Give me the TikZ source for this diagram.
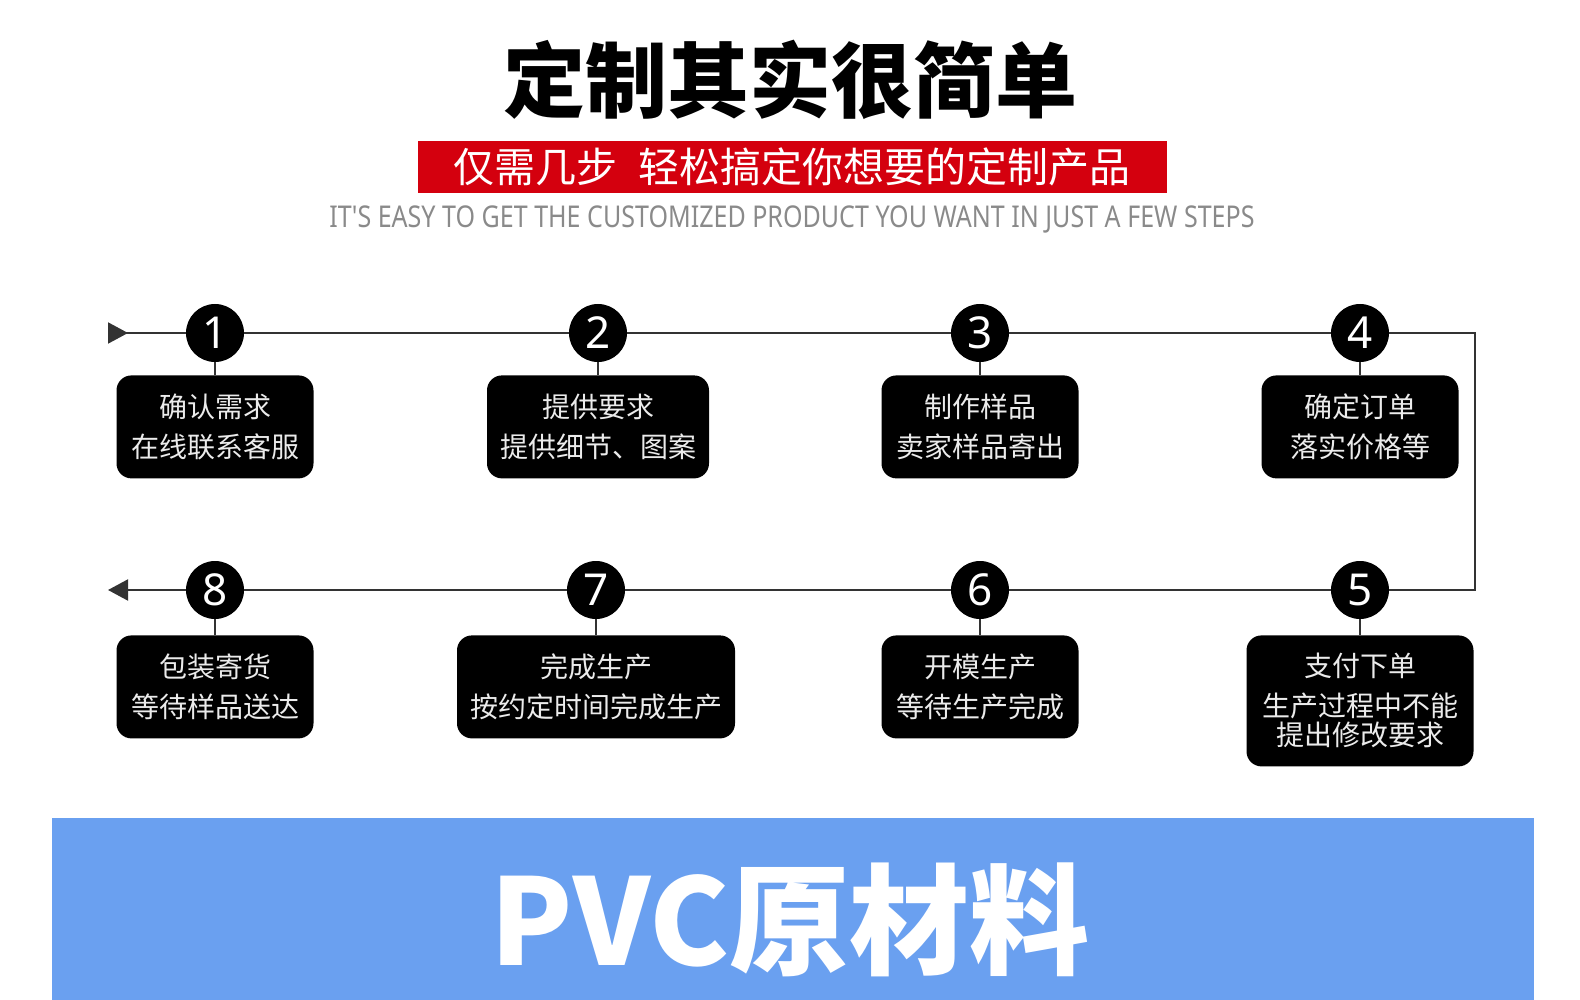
\documentclass[tikz,border=0pt]{standalone}
\usepackage{fontspec}
\newfontfamily\cjk{Noto Sans CJK SC}
\newfontfamily\latin{Noto Sans}
\newfontfamily\latinnarrow[FakeStretch=0.835]{Noto Sans}
\usetikzlibrary{positioning,arrows.meta}
\definecolor{tagred}{HTML}{D4000E}
\definecolor{bandblue}{HTML}{6AA0F0}
\definecolor{subgray}{HTML}{8A8A8A}
\definecolor{linegray}{HTML}{333333}
\tikzset{
  numdot/.style={circle,fill=black,minimum size=58pt,inner sep=0pt,
    text=white,font=\latin\fontsize{44}{44}\selectfont},
  stepbox/.style={draw=none,fill=black,rounded corners=15pt,align=center,
    text=white!92!black,inner sep=0pt,minimum height=103pt,
    font=\cjk\fontsize{28}{40}\selectfont},
  flow/.style={draw=linegray,line width=2pt},
  flowin/.style={flow,{Triangle[reversed,length=20pt,width=21pt]}-},
  flowout/.style={flow,-{Triangle[length=20pt,width=21pt]}},
  stem/.style={draw=linegray,line width=2pt},
}

\begin{document}
\begin{tikzpicture}[x=1pt,y=-1pt]
  \useasboundingbox (0,0) rectangle (1580,1000);

  % heading
  \node[font=\cjk\bfseries\fontsize{82}{82}\selectfont] (title) at (790,80) {定制其实很简单};
  \node[fill=tagred,text=white,minimum width=749pt,minimum height=52pt,inner sep=0pt,
    font=\cjk\fontsize{41}{41}\selectfont] (tagbar) at (792,167)
    {仅需几步\hspace{0.5em}轻松搞定你想要的定制产品};
  \node[text=subgray,font=\latinnarrow\fontsize{30}{30}\selectfont] (subline) at (792,219)
    {IT'S EASY TO GET THE CUSTOMIZED PRODUCT YOU WANT IN JUST A FEW STEPS};

  % step numbers
  \node[numdot] (s1) at (215,333) {1};
  \node[numdot] (s2) at (598,333) {2};
  \node[numdot] (s3) at (980,333) {3};
  \node[numdot] (s4) at (1360,333) {4};
  \node[numdot] (s5) at (1360,590) {5};
  \node[numdot] (s6) at (980,590) {6};
  \node[numdot] (s7) at (596,590) {7};
  \node[numdot] (s8) at (215,590) {8};

  % step boxes
  \node[stepbox,minimum width=197pt,below=13pt of s1] (b1) {确认需求\\在线联系客服};
  \node[stepbox,minimum width=222pt,below=13pt of s2] (b2) {提供要求\\提供细节、图案};
  \node[stepbox,minimum width=197pt,below=13pt of s3] (b3) {制作样品\\卖家样品寄出};
  \node[stepbox,minimum width=197pt,below=13pt of s4] (b4) {确定订单\\落实价格等};
  \node[stepbox,minimum width=227pt,minimum height=131pt,below=16pt of s5,
    font=\cjk\fontsize{28}{29}\selectfont] (b5) {支付下单\\[11pt]生产过程中不能\\提出修改要求};
  \node[stepbox,minimum width=197pt,below=16pt of s6] (b6) {开模生产\\等待生产完成};
  \node[stepbox,minimum width=278pt,below=16pt of s7] (b7) {完成生产\\按约定时间完成生产};
  \node[stepbox,minimum width=197pt,below=16pt of s8] (b8) {包装寄货\\等待样品送达};

  % flow line
  \coordinate (in) at (108,333);
  \coordinate (ne) at (1475,333);
  \coordinate (se) at (1475,590);
  \coordinate (out) at (108,590);
  \draw[flowin] (in) -- (s1);
  \draw[flowout] (s1) -- (s2) -- (s3) -- (s4) -- (ne) -- (se)
    -- (s5) -- (s6) -- (s7) -- (s8) -- (out);
  \foreach \i in {1,...,8}
    \draw[stem] (s\i) -- (b\i);

  % blue band
  \fill[bandblue] (52,818) rectangle (1534,1000);
  \node[text=white,font=\cjk\bfseries\fontsize{120}{120}\selectfont] (pvc) at (790,920) {PVC原材料};
\end{tikzpicture}
\end{document}
